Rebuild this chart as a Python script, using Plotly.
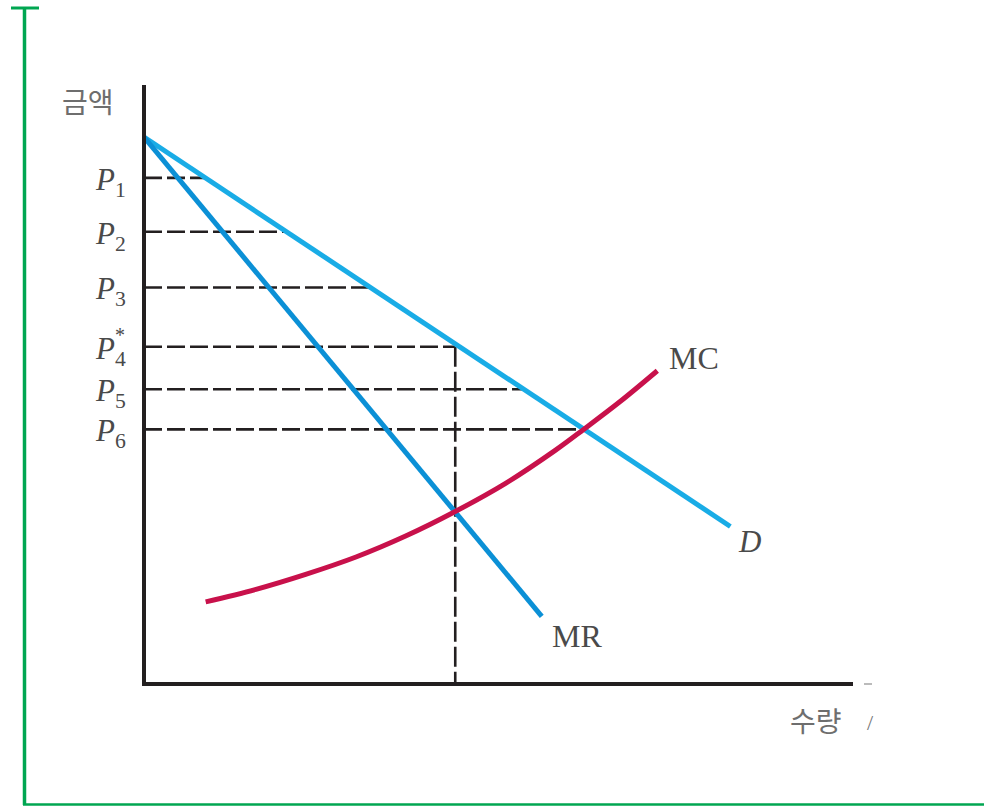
import numpy as np
import plotly.graph_objects as go

# --- Data (quantity on x, price on y, both in 0..100 units) ---
demand_q = [0.0, 82.7]
demand_p = [91.3, 26.3]

mr_q = [0.0, 56.1]
mr_p = [91.3, 11.3]

mc_q = [8.7, 15.8, 22.8, 29.9, 36.9, 43.9, 51.0, 58.0, 62.0, 67.2, 72.4]
mc_p = [13.7, 15.8, 18.3, 21.2, 24.7, 28.8, 33.5, 39.0, 42.5, 47.2, 52.3]

price_names = ["1", "2", "3", "4", "5", "6"]
price_levels = [84.5, 75.5, 66.2, 56.3, 49.2, 42.5]
profit_max_index = 3  # P4* : the profit-maximising price
q_star = 43.9

X_MAX, Y_MAX = 100, 100

INK = "#231f20"
D_COLOR = "#19ace6"
MR_COLOR = "#0b90d6"
MC_COLOR = "#c8114b"
GREEN = "#00a651"
LABEL = "#4a4a4a"


def demand_quantity(price):
    # invert the linear demand curve
    return float(np.interp(price, demand_p[::-1], demand_q[::-1]))


fig = go.Figure()

# Dashed guide lines from the price axis to the demand curve
for i, p in enumerate(price_levels):
    end_q = q_star if i == profit_max_index else demand_quantity(p)
    fig.add_trace(go.Scatter(
        x=[0, end_q], y=[p, p], mode="lines",
        line=dict(color=INK, width=2.6, dash="18px,5px"),
        hoverinfo="skip", showlegend=False))

# Vertical dashed line at the optimal quantity
fig.add_trace(go.Scatter(
    x=[q_star, q_star], y=[price_levels[profit_max_index], 0], mode="lines",
    line=dict(color=INK, width=2.6, dash="20px,5px"),
    hoverinfo="skip", showlegend=False))

# Demand, marginal revenue and marginal cost
fig.add_trace(go.Scatter(x=demand_q, y=demand_p, mode="lines",
                         line=dict(color=D_COLOR, width=5),
                         hoverinfo="skip", showlegend=False))
fig.add_trace(go.Scatter(x=mr_q, y=mr_p, mode="lines",
                         line=dict(color=MR_COLOR, width=5),
                         hoverinfo="skip", showlegend=False))
fig.add_trace(go.Scatter(x=mc_q, y=mc_p, mode="lines",
                         line=dict(color=MC_COLOR, width=5, shape="spline"),
                         hoverinfo="skip", showlegend=False))

annotations = []

# Price labels on the vertical axis
for i, (name, p) in enumerate(zip(price_names, price_levels)):
    annotations.append(dict(
        x=-0.022, xref="paper", y=p, yref="y",
        text=f"<i>P</i><sub>{name}</sub>",
        showarrow=False, xanchor="right", yanchor="middle", yshift=-4,
        font=dict(family="Liberation Serif", size=31, color=LABEL)))
    if i == profit_max_index:
        annotations.append(dict(
            x=-0.022, xref="paper", y=p, yref="y",
            text="*", showarrow=False, xanchor="right", yanchor="middle",
            xshift=-1, yshift=12,
            font=dict(family="Liberation Serif", size=20, color=LABEL)))

# Curve labels
serif = dict(family="Liberation Serif", size=32, color=LABEL)
annotations += [
    dict(x=mc_q[-1], y=mc_p[-1], xref="x", yref="y", text="MC",
         showarrow=False, xanchor="left", yanchor="middle",
         xshift=10, yshift=13, font=serif),
    dict(x=demand_q[-1], y=demand_p[-1], xref="x", yref="y", text="<i>D</i>",
         showarrow=False, xanchor="left", yanchor="top",
         xshift=6, yshift=4, font=dict(family="Liberation Serif", size=31, color=LABEL)),
    dict(x=mr_q[-1], y=mr_p[-1], xref="x", yref="y", text="MR",
         showarrow=False, xanchor="left", yanchor="top",
         xshift=8, yshift=0, font=serif),
]

# Axis titles
cjk = dict(family="Noto Sans CJK KR", size=28, color="#6e6e6e")
annotations += [
    dict(x=-0.118, xref="paper", y=1.0, yref="paper", text="금액",
         showarrow=False, xanchor="left", yanchor="middle", yshift=-16, font=cjk),
    dict(x=1.0, xref="paper", y=0, yref="paper", text="수량",
         showarrow=False, xanchor="right", yanchor="top", xshift=-9, yshift=-14, font=cjk),
    dict(x=1.0, xref="paper", y=0, yref="paper", text="/",
         showarrow=False, xanchor="left", yanchor="top", xshift=12, yshift=-24,
         font=dict(family="Liberation Serif", size=22, color="#777777")),
]

# Axes and the green page frame (paper coordinates)
plot_w, plot_h = 709, 599
def px_x(px):
    return (px - 144) / plot_w
def px_y(py):
    return (684 - py) / plot_h

shapes = [
    dict(type="line", xref="paper", yref="paper", x0=0, y0=0, x1=0, y1=1,
         line=dict(color=INK, width=4)),
    dict(type="line", xref="paper", yref="paper", x0=-0.0028, y0=0, x1=1, y1=0,
         line=dict(color=INK, width=4)),
    dict(type="line", xref="paper", yref="paper", x0=px_x(864), y0=0, x1=px_x(872), y1=0,
         line=dict(color="#bbbbbb", width=2)),
    dict(type="line", xref="paper", yref="paper", x0=px_x(24.5), y0=px_y(8), x1=px_x(24.5), y1=px_y(805),
         line=dict(color=GREEN, width=3.5)),
    dict(type="line", xref="paper", yref="paper", x0=px_x(11), y0=px_y(8), x1=px_x(39), y1=px_y(8),
         line=dict(color=GREEN, width=3)),
    dict(type="line", xref="paper", yref="paper", x0=px_x(23), y0=px_y(804.5), x1=px_x(990), y1=px_y(804.5),
         line=dict(color=GREEN, width=2.5)),
]

fig.update_layout(
    width=984, height=806,
    margin=dict(l=144, r=131, t=85, b=122),
    paper_bgcolor="white", plot_bgcolor="white",
    xaxis=dict(range=[0, X_MAX], visible=False, fixedrange=True),
    yaxis=dict(range=[0, Y_MAX], visible=False, fixedrange=True),
    annotations=annotations,
    shapes=shapes,
    showlegend=False,
)

fig.write_html("out.html")
